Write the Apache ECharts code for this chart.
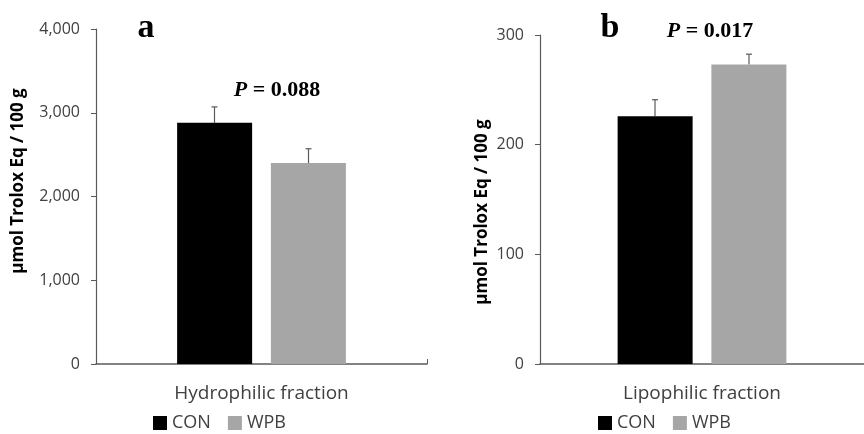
<!DOCTYPE html>
<html>
<head>
<meta charset="utf-8">
<script src="https://cdn.jsdelivr.net/npm/echarts@6/dist/echarts.min.js"></script>
<style>
  html, body { margin: 0; padding: 0; background: #fff; }
  #chart { width: 864px; height: 434px; }
</style>
</head>
<body>
<div id="chart"></div>
<script>
const categories = ["Hydrophilic fraction", "Lipophilic fraction"];
const groups = ["CON", "WPB"];
const conMeans = [2880, 226];
const wpbMeans = [2400, 273];
const conErr = [190, 15];
const wpbErr = [170, 9.5];
const yMax = [4000, 300];
const yStep = [1000, 100];
const yTitle = "µmol Trolox Eq / 100 g";
const panelLetters = ["a", "b"];
const pLabels = ["0.088", "0.017"];

const chart = echarts.init(document.getElementById("chart"));

const axisGrey = "#595959";
const sans = "Open Sans";
const serif = "Liberation Serif";
const barW = 75;
const half = 47; // distance of each bar centre from the category centre

const grids = [
  { left: 96, top: 29, width: 331, height: 335 },
  { left: 540, top: 35, width: 330, height: 329 },
];

const xAxes = categories.map((c, i) => ({
  type: "category",
  gridIndex: i,
  data: [c],
  axisLine: { lineStyle: { color: axisGrey, width: 1.5 } },
  axisTick: { show: true, inside: true, length: 5, lineStyle: { color: axisGrey } },
  axisLabel: { color: "#404040", fontFamily: sans, fontSize: 19, margin: 20 },
}));

const yAxes = categories.map((c, i) => ({
  type: "value",
  gridIndex: i,
  min: 0,
  max: yMax[i],
  interval: yStep[i],
  axisLine: { show: true, lineStyle: { color: axisGrey, width: 1.2 } },
  axisTick: { show: true, length: 5, lineStyle: { color: axisGrey } },
  axisLabel: {
    color: "#404040",
    fontFamily: sans,
    fontSize: 16,
    margin: 16,
    formatter: (v) => v.toLocaleString("en-US"),
  },
  splitLine: { show: false },
}));

const errorSeries = (means, errs, offset, gi) => ({
  type: "custom",
  xAxisIndex: gi,
  yAxisIndex: gi,
  silent: true,
  z: 1,
  data: [[0, means[gi], means[gi] + errs[gi]]],
  renderItem: (params, api) => {
    const base = api.coord([0, api.value(1)]);
    const top = api.coord([0, api.value(2)]);
    const x = base[0] + offset;
    const style = { stroke: axisGrey, lineWidth: 1.2 };
    return {
      type: "group",
      children: [
        { type: "line", shape: { x1: x, y1: base[1], x2: x, y2: top[1] }, style },
        { type: "line", shape: { x1: x - 3, y1: top[1], x2: x + 3, y2: top[1] }, style },
      ],
    };
  },
});

const series = [];
[0, 1].forEach((gi) => {
  series.push({
    name: "CON",
    type: "bar",
    xAxisIndex: gi,
    yAxisIndex: gi,
    barWidth: barW,
    barGap: "25%",
    itemStyle: { color: "#000000" },
    data: [conMeans[gi]],
  });
  series.push({
    name: "WPB",
    type: "bar",
    xAxisIndex: gi,
    yAxisIndex: gi,
    barWidth: barW,
    barGap: "25%",
    itemStyle: { color: "#a6a6a6" },
    data: [wpbMeans[gi]],
  });
  series.push(errorSeries(conMeans, conErr, -half, gi));
  series.push(errorSeries(wpbMeans, wpbErr, half, gi));
});

const legendBase = {
  data: groups,
  icon: "rect",
  itemWidth: 14,
  itemHeight: 14,
  itemGap: 17,
  padding: 0,
  top: 414,
  textStyle: { color: "#404040", fontFamily: sans, fontSize: 18, padding: [0, 0, 0, 0] },
};

const textEl = (x, y, rich, text, size) => ({
  type: "text",
  x,
  y,
  style: {
    text,
    fill: "#000",
    fontFamily: serif,
    fontWeight: "bold",
    fontSize: size,
    align: "center",
    verticalAlign: "middle",
    rich,
  },
});

// rotated y-axis title, placed like the original's
const yTitleEl = (x, y) => ({
  type: "text",
  x,
  y,
  rotation: Math.PI / 2,
  style: {
    text: yTitle,
    fill: "#000",
    fontFamily: sans,
    fontWeight: "bold",
    fontSize: 17,
    align: "center",
    verticalAlign: "middle",
  },
});

const pRich = {
  i: { fontFamily: serif, fontStyle: "italic", fontWeight: "bold", fontSize: 22, fill: "#000" },
  n: { fontFamily: serif, fontWeight: "bold", fontSize: 22, fill: "#000" },
};

chart.setOption({
  animation: false,
  grid: grids,
  xAxis: xAxes,
  yAxis: yAxes,
  legend: [
    Object.assign({}, legendBase, { left: 153 }),
    Object.assign({}, legendBase, { left: 598 }),
  ],
  graphic: [
    yTitleEl(18, 181),
    yTitleEl(482, 212),
    textEl(146, 28, null, panelLetters[0], 34),
    textEl(610, 28, null, panelLetters[1], 34),
    textEl(277, 90, pRich, "{i|P}{n| = " + pLabels[0] + "}", 22),
    textEl(710, 31, pRich, "{i|P}{n| = " + pLabels[1] + "}", 22),
  ],
  series,
});
</script>
</body>
</html>
